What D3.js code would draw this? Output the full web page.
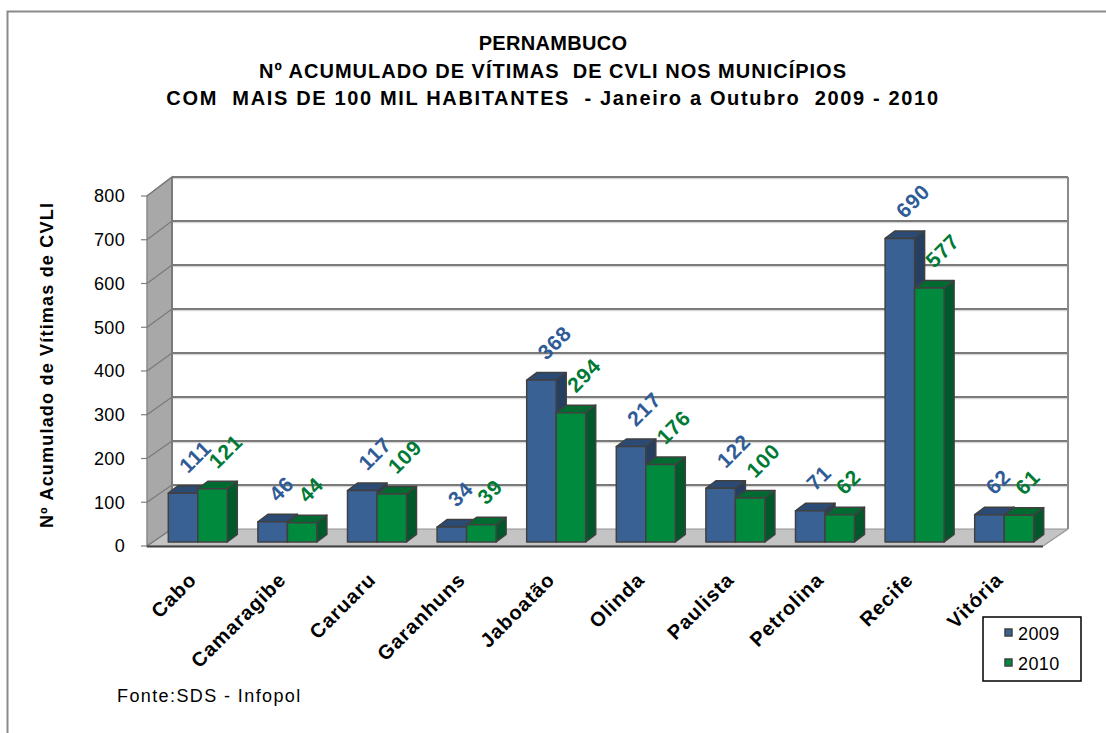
<!DOCTYPE html>
<html>
<head>
<meta charset="utf-8">
<script src="https://cdn.jsdelivr.net/npm/d3@7"></script>
<style>
  body { margin: 0; background: #fff; }
  svg { display: block; font-family: "Liberation Sans", Arial, sans-serif; }
  .pre { white-space: pre; }
</style>
</head>
<body>
<svg id="chart" width="1106" height="733"></svg>
<script>
const categories = ["Cabo","Camaragibe","Caruaru","Garanhuns","Jaboatão","Olinda","Paulista","Petrolina","Recife","Vitória"];
const series = ["2009","2010"];
const values2009 = [111,46,117,34,368,217,122,71,690,62];
const values2010 = [121,44,109,39,294,176,100,62,577,61];
const yTicks = [0,100,200,300,400,500,600,700,800];
const titleLines = ["PERNAMBUCO","Nº ACUMULADO DE VÍTIMAS  DE CVLI NOS MUNICÍPIOS","COM  MAIS DE 100 MIL HABITANTES  - Janeiro a Outubro  2009 - 2010"];
const yTitle = "Nº Acumulado de Vítimas de CVLI";
const source = "Fonte:SDS - Infopol";

const colors = {
  "2009": {front:"#3A6194", top:"#2B4A74", side:"#253F63", label:"#2F5C97"},
  "2010": {front:"#008A3E", top:"#006A30", side:"#00592A", label:"#007A36"}
};
const valuesBySeries = {"2009": values2009, "2010": values2010};

const svg = d3.select("#chart");

// outer frame
svg.append("rect").attr("x",7.5).attr("y",11.5).attr("width",1200).attr("height",900)
  .attr("fill","none").attr("stroke","#8a8a8a").attr("stroke-width",2);

// title
svg.append("g").selectAll("text").data(titleLines).join("text")
  .attr("class","pre")
  .attr("x",553).attr("y",(d,i)=>50+i*27.5)
  .attr("text-anchor","middle").attr("font-weight","bold").attr("font-size",20)
  .attr("letter-spacing",(d,i)=>i===0?0.3:(i===1?1:1.65))
  .attr("fill","#000").text(d=>d);

// geometry
const fx0 = 147, fx1 = 1043;          // floor front edge x range
const depth = [25,-17];               // depth vector of plot box
const yFront = d3.scaleLinear().domain([0,800]).range([546,196]);
const yBack  = d3.scaleLinear().domain([0,800]).range([529,177]);
const yBar   = d3.scaleLinear().domain([0,800]).range([542,190]);
const barShift = 6;
const x0 = d3.scaleBand().domain(categories).range([fx0+barShift, fx1+barShift]).paddingInner(0).paddingOuter(0);
const groupW = 59;
const x1 = d3.scaleBand().domain(series).range([(x0.bandwidth()-groupW)/2, (x0.bandwidth()+groupW)/2]);
const bd = [10,-7.5];                 // bar depth

const bx = fx0 + depth[0], bxr = fx1 + depth[0];

// back wall
svg.append("rect").attr("x",bx).attr("y",yBack(800)).attr("width",bxr-bx).attr("height",yBack(0)-yBack(800))
  .attr("fill","#fff");
// left wall
svg.append("polygon")
  .attr("points",[[fx0,yFront(0)],[bx,yBack(0)],[bx,yBack(800)],[fx0,yFront(800)]].map(p=>p.join(",")).join(" "))
  .attr("fill","#a8a8a8").attr("stroke","#8a8a8a").attr("stroke-width",1.5);
// floor
svg.append("polygon")
  .attr("points",[[fx0,yFront(0)],[fx1,yFront(0)],[bxr,yBack(0)],[bx,yBack(0)]].map(p=>p.join(",")).join(" "))
  .attr("fill","#c4c4c4").attr("stroke","#909090").attr("stroke-width",1);

// gridlines
const grid = svg.append("g");
grid.selectAll("line.bg").data(yTicks.filter(v=>v>0)).join("line")
  .attr("x1",bx).attr("x2",bxr).attr("y1",d=>yBack(d)+1.5).attr("y2",d=>yBack(d)+1.5)
  .attr("stroke","#d8d8d8").attr("stroke-width",1.5);
grid.selectAll("line.g").data(yTicks.filter(v=>v>0)).join("line")
  .attr("x1",bx).attr("x2",bxr).attr("y1",d=>yBack(d)).attr("y2",d=>yBack(d))
  .attr("stroke","#7a7a7a").attr("stroke-width",2);
grid.selectAll("line.d").data(yTicks).join("line")
  .attr("x1",fx0).attr("x2",bx).attr("y1",d=>yFront(d)).attr("y2",d=>yBack(d))
  .attr("stroke","#7a7a7a").attr("stroke-width",1.2);
// back wall vertical edges
svg.append("line").attr("x1",bx).attr("x2",bx).attr("y1",yBack(800)).attr("y2",yBack(0))
  .attr("stroke","#7a7a7a").attr("stroke-width",2);
svg.append("line").attr("x1",bxr).attr("x2",bxr).attr("y1",yBack(800)).attr("y2",yBack(0))
  .attr("stroke","#8a8a8a").attr("stroke-width",2);
// floor right edge
svg.append("line").attr("x1",fx1).attr("x2",bxr).attr("y1",yFront(0)).attr("y2",yBack(0))
  .attr("stroke","#a0a0a0").attr("stroke-width",1.5);

// bars
const barsG = svg.append("g");
categories.forEach((c,i)=>{
  series.forEach(s=>{
    const v = valuesBySeries[s][i];
    const xl = x0(c) + x1(s), w = x1.bandwidth();
    const yt = yBar(v), yb = yBar(0);
    const col = colors[s];
    const g = barsG.append("g").attr("stroke","#404040").attr("stroke-width",1.5).attr("stroke-linejoin","round");
    g.append("polygon").attr("points",[[xl+w,yt],[xl+w+bd[0],yt+bd[1]],[xl+w+bd[0],yb+bd[1]],[xl+w,yb]].map(p=>p.join(",")).join(" "))
      .attr("fill",col.side);
    g.append("polygon").attr("points",[[xl,yt],[xl+w,yt],[xl+w+bd[0],yt+bd[1]],[xl+bd[0],yt+bd[1]]].map(p=>p.join(",")).join(" "))
      .attr("fill",col.top);
    g.append("rect").attr("x",xl).attr("y",yt).attr("width",w).attr("height",yb-yt).attr("fill",col.front);
  });
});

// floor front edge
svg.append("line").attr("x1",fx0).attr("x2",fx1).attr("y1",yFront(0)+0.5).attr("y2",yFront(0)+0.5)
  .attr("stroke","#404040").attr("stroke-width",2);

// data labels
const labelsG = svg.append("g");
categories.forEach((c,i)=>{
  series.forEach(s=>{
    const v = valuesBySeries[s][i];
    const cx = x0(c) + x1(s) + x1.bandwidth()/2 + 5;
    const cy = yBar(v) - 19;
    labelsG.append("text").attr("transform",`translate(${cx},${cy}) rotate(-45)`)
      .attr("font-size",21).attr("font-weight","bold").attr("letter-spacing",0.8)
      .attr("fill",colors[s].label).text(v);
  });
});

// y axis ticks and labels
const axisG = svg.append("g");
axisG.selectAll("line").data(yTicks).join("line")
  .attr("x1",fx0-6).attr("x2",fx0).attr("y1",d=>yFront(d)).attr("y2",d=>yFront(d))
  .attr("stroke","#808080").attr("stroke-width",1.2);
axisG.selectAll("text").data(yTicks).join("text")
  .attr("x",125).attr("y",d=>yFront(d)).attr("dy","0.36em")
  .attr("text-anchor","end").attr("font-size",18).attr("letter-spacing",0.3).attr("fill","#000").text(d=>d);

// y title
svg.append("text").attr("transform","translate(47,365) rotate(-90)")
  .attr("text-anchor","middle").attr("dy","0.35em").attr("font-size",18).attr("font-weight","bold")
  .attr("letter-spacing",1.2)
  .text(yTitle);

// category labels
svg.append("g").selectAll("text").data(categories).join("text")
  .attr("transform",d=>`translate(${x0(d)-barShift+x0.bandwidth()/2+6},${581}) rotate(-45)`)
  .attr("text-anchor","end").attr("font-size",20).attr("font-weight","bold").attr("letter-spacing",1).text(d=>d);

// legend
const lg = svg.append("g");
lg.append("rect").attr("x",983).attr("y",617).attr("width",98).attr("height",64)
  .attr("fill","#fff").attr("stroke","#000").attr("stroke-width",1.5);
series.forEach((s,i)=>{
  lg.append("rect").attr("x",1005).attr("y",629+i*30).attr("width",7).attr("height",7)
    .attr("fill",colors[s].front).attr("stroke","#404040").attr("stroke-width",1.5);
  lg.append("text").attr("x",1018).attr("y",640+i*30).attr("font-size",18).attr("letter-spacing",0.4).text(s);
});

// source
svg.append("text").attr("x",117).attr("y",702).attr("font-size",18).attr("letter-spacing",1.4).text(source);
</script>
</body>
</html>
